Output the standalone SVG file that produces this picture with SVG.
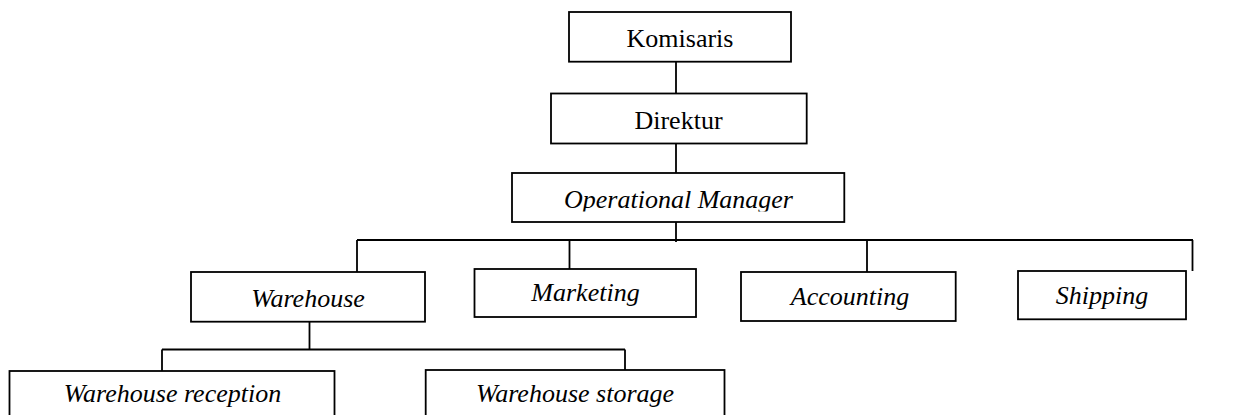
<svg xmlns="http://www.w3.org/2000/svg" width="1240" height="415" viewBox="0 0 1240 415">
<style>
.box{fill:#fff;stroke:#000;stroke-width:1.8}
.ln{fill:none;stroke:#000;stroke-width:1.8}
.t{font-family:"Liberation Serif","Times New Roman",serif;font-size:26px;fill:#000;text-anchor:middle}
.i{font-style:italic}
</style>
<defs>
<clipPath id="cOM"><rect x="512" y="173" width="332" height="38.5"/></clipPath>
<clipPath id="cMk"><rect x="474" y="269" width="222" height="37"/></clipPath>
<clipPath id="cAc"><rect x="741" y="272" width="215" height="38"/></clipPath>
<clipPath id="cSh"><rect x="1018" y="271" width="168" height="43"/></clipPath>
</defs>
<rect width="1240" height="415" fill="#fff"/>
<g id="connectors">
<path class="ln" d="M676 62V93.5M676 143.5V173M676 222V242M357 240H1193M357 240V272M569.5 240V269M867 240V272M1192.5 240V271M309.5 322V349.5M162 349.5H625M162 349.5V371M625 349.5V370"/>
</g>
<g id="komisaris"><rect class="box" x="569" y="12" width="222" height="49.7"/><text class="t" x="680" y="46.5">Komisaris</text></g>
<g id="direktur"><rect class="box" x="551" y="93.5" width="255.7" height="50"/><text class="t" x="678.5" y="129">Direktur</text></g>
<g id="operational-manager"><rect class="box" x="512" y="173" width="332.3" height="49"/><text class="t i" x="678.5" y="208" clip-path="url(#cOM)">Operational Manager</text></g>
<g id="warehouse"><rect class="box" x="191" y="272" width="234" height="49.7"/><text class="t i" x="308" y="306.5">Warehouse</text></g>
<g id="marketing"><rect class="box" x="474.5" y="269" width="221.5" height="48"/><text class="t i" x="585.5" y="301" clip-path="url(#cMk)">Marketing</text></g>
<g id="accounting"><rect class="box" x="741" y="272" width="214.7" height="49"/><text class="t i" x="850" y="305" clip-path="url(#cAc)">Accounting</text></g>
<g id="shipping"><rect class="box" x="1018" y="271" width="168" height="48.3"/><text class="t i" x="1102" y="304" clip-path="url(#cSh)">Shipping</text></g>
<g id="warehouse-reception"><rect class="box" x="9.5" y="371" width="325" height="60"/><text class="t i" x="172.5" y="402">Warehouse reception</text></g>
<g id="warehouse-storage"><rect class="box" x="425.7" y="370" width="298.8" height="60"/><text class="t i" x="575" y="402">Warehouse storage</text></g>
</svg>
